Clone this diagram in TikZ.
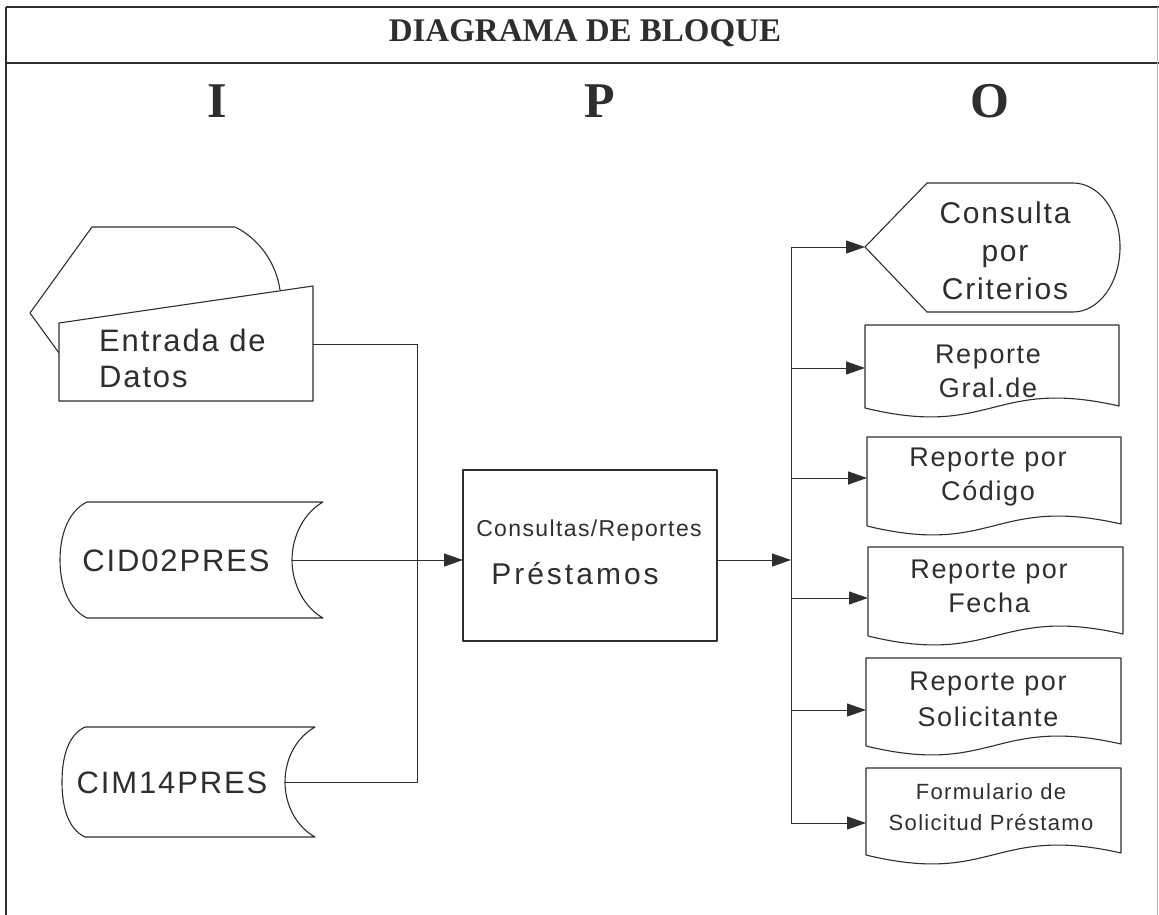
\documentclass[tikz,border=0pt]{standalone}
\usepackage{fontspec}
\setmainfont{Liberation Serif}
\newfontfamily\lbl[LetterSpace=6]{Liberation Sans}
\newfontfamily\lblw[LetterSpace=10]{Liberation Sans}
\usetikzlibrary{arrows.meta}
\definecolor{ink}{gray}{0.18}
\tikzset{
  shp/.style={draw=ink, line width=1.1pt, line join=round},
  conn/.style={draw=ink, line width=1pt},
  arr/.style={conn, -{Triangle[length=19pt,width=13pt]}},
  txt/.style={text=ink, inner sep=0pt, align=center},
  frame/.style={draw=ink, line width=1.2pt},
}
\newcommand\docshape[4]{%
  \pgfmathsetmacro\mx{(#1+#3)/2}%
  \draw[shp] (#1,#4) -- (#1,#2) -- (#3,#2) -- (#3,#4-2)
    .. controls (\mx,#4-31) and (\mx,#4+31) .. (#1,#4);}
\begin{document}
\begin{tikzpicture}[x=1pt,y=-1pt]
\useasboundingbox (0,0) rectangle (1159,915);
% frame
\draw[frame, line width=2pt] (6,7) -- (1159,7);
\draw[frame] (6,7) -- (6,915);
\draw[frame] (6,63) -- (1159,63);
\draw[draw=ink!35, line width=1pt] (1157,7) -- (1157,915);
\node[txt, font=\fontsize{33}{36}\selectfont\bfseries] (title) at (585,33) {DIAGRAMA DE BLOQUE};
\node[txt, font=\fontsize{50}{54}\selectfont\bfseries] (colI) at (217,101) {I};
\node[txt, font=\fontsize{50}{54}\selectfont\bfseries] (colP) at (600,101) {P};
\node[txt, font=\fontsize{50}{54}\selectfont\bfseries] (colO) at (990,101) {O};

% input: display shape behind manual input card
\draw[shp] (59,353) -- (30,313) -- (92,227) -- (235,227)
  .. controls (258,238) and (276,262) .. (280,290);
\draw[shp, fill=white] (59,323) -- (313,286) -- (313,401) -- (59,401) -- cycle;
\node[txt, align=left, anchor=west, font=\lbl\fontsize{31}{36}\selectfont] (entrada) at (99,358) {Entrada de\\Datos};
\coordinate (entE) at (313,344);

% storage CID02PRES
\draw[shp] (323,502) -- (87,502) .. controls (70,510) and (60,532) .. (60,560)
  .. controls (60,588) and (70,610) .. (87,618) -- (323,618)
  .. controls (305,608) and (292,585) .. (292,560)
  .. controls (292,535) and (305,512) .. (323,502);
\node[txt, font=\lbl\fontsize{31}{35}\selectfont] (cid) at (176,561) {CID02PRES};
\coordinate (cidE) at (292,560);

% storage CIM14PRES
\draw[shp] (315,727) -- (85,727) .. controls (68,735) and (62,757) .. (62,782)
  .. controls (62,807) and (68,829) .. (85,837) -- (315,837)
  .. controls (297,827) and (285,806) .. (285,782)
  .. controls (285,758) and (297,737) .. (315,727);
\node[txt, font=\lbl\fontsize{31}{35}\selectfont] (cim) at (172,783) {CIM14PRES};
\coordinate (cimE) at (285,782);

% process box
\draw[shp] (463,470) rectangle (717,641);
\node[txt, font=\lbl\fontsize{23}{26}\selectfont] (proc1) at (589,531) {Consultas/Reportes};
\node[txt, font=\lblw\fontsize{30}{32}\selectfont] (proc2) at (575,574) {Préstamos};
\coordinate (procW) at (463,560);
\coordinate (procE) at (717,560);

% input connectors
\coordinate (jIn) at (417,782);
\draw[conn] (entE) -| (jIn) -- (cimE);
\draw[arr] (cidE) -- (procW);

% output bus
\coordinate (busTop) at (791,247);
\coordinate (busBot) at (791,823);
\coordinate (busMid) at (791,560);
\draw[conn] (busTop) -- (busBot);
\draw[arr] (procE) -- (busMid);

% Consulta por Criterios (display)
\draw[shp] (865,247) -- (927,183) -- (1073,183)
  .. controls (1099,183) and (1120,211) .. (1120,247)
  .. controls (1120,283) and (1099,312) .. (1073,312)
  -- (927,312) -- cycle;
\node[txt, font=\lbl\fontsize{30}{38}\selectfont] (cons) at (1005,251) {Consulta\\por\\Criterios};
\coordinate (consW) at (865,247);

% documents
\docshape{865}{325}{1119}{408}
\node[txt, font=\lbl\fontsize{27}{34}\selectfont] (gral) at (988,371) {Reporte\\Gral.de};
\coordinate (gralW) at (865,368);

\docshape{867}{437}{1121}{526}
\node[txt, font=\lbl\fontsize{27}{34}\selectfont] (codigo) at (988,477) {Reporte por\\Código};
\coordinate (codW) at (867,478);

\docshape{868}{547}{1123}{636}
\node[txt, font=\lbl\fontsize{27}{34}\selectfont] (fecha) at (989,586) {Reporte por\\Fecha};
\coordinate (fecW) at (868,598);

\docshape{866}{658}{1121}{746}
\node[txt, font=\lbl\fontsize{27}{36}\selectfont] (solic) at (988,699) {Reporte por\\Solicitante};
\coordinate (solW) at (866,710);

\docshape{866}{768}{1121}{855}
\node[txt, font=\lbl\fontsize{22}{31}\selectfont] (form) at (991,807) {Formulario de\\Solicitud Préstamo};
\coordinate (forW) at (866,823);

\draw[arr] (busTop) -- (consW);
\draw[arr] (791,368) -- (gralW);
\draw[arr] (791,478) -- (codW);
\draw[arr] (791,598) -- (fecW);
\draw[arr] (791,710) -- (solW);
\draw[arr] (busBot) -- (forW);
\end{tikzpicture}
\end{document}
